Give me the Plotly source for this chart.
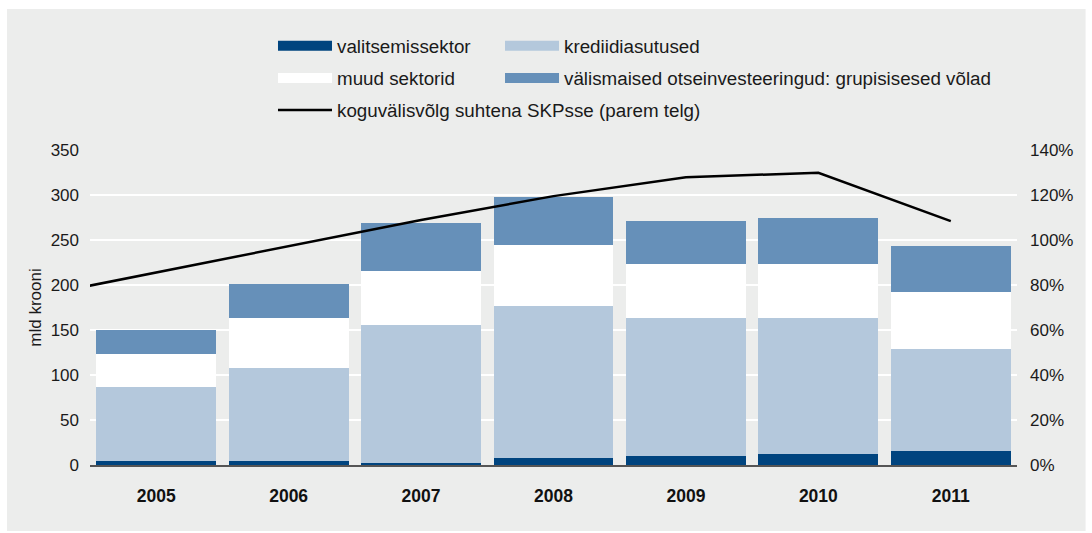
import plotly.graph_objects as go

years = [2005, 2006, 2007, 2008, 2009, 2010, 2011]
valitsemissektor = [4.4, 4.4, 2.2, 7.8, 10.0, 12.2, 15.6]
krediidiasutused = [82.3, 103.4, 153.4, 168.9, 153.3, 151.1, 113.3]
muud_sektorid = [36.6, 55.5, 60.0, 67.7, 60.0, 60.0, 63.3]
otseinvesteeringud = [26.7, 37.8, 53.3, 53.4, 47.8, 51.1, 51.1]

# debt-to-GDP line (right axis); the line enters from the left edge of the plot
line_years = [2004, 2005, 2006, 2007, 2008, 2009, 2010, 2011]
koguvolg_pct = [0.739, 0.855, 0.972, 1.089, 1.195, 1.279, 1.299, 1.084]

C_DARK = "#00447f"
C_LIGHT = "#b4c8dc"
C_WHITE = "#ffffff"
C_MID = "#6690b9"
BG = "#ecedec"
FONT = "Liberation Sans, Arial, Helvetica, sans-serif"

fig = go.Figure()

series = [
    ("valitsemissektor", valitsemissektor, C_DARK, "legend"),
    ("krediidiasutused", krediidiasutused, C_LIGHT, "legend2"),
    ("muud sektorid", muud_sektorid, C_WHITE, "legend3"),
    ("välismaised otseinvesteeringud: grupisisesed võlad", otseinvesteeringud, C_MID, "legend4"),
]

for name, vals, col, lg in series:
    fig.add_trace(go.Bar(x=years, y=vals, name=name, marker=dict(color=col, line=dict(width=0)),
                         showlegend=False, legendgroup=name))

# legend swatches (wide rectangles like the original)
for name, vals, col, lg in series:
    fig.add_trace(go.Scatter(x=[None], y=[None], mode="lines", name=name, legendgroup=name,
                             line=dict(color=col, width=14), legend=lg, hoverinfo="skip"))

fig.add_trace(go.Scatter(x=line_years, y=koguvolg_pct, mode="lines", yaxis="y2",
                         name="koguvälisvõlg suhtena SKPsse (parem telg)",
                         line=dict(color="#000000", width=2.5), legend="legend5"))

leg_common = dict(orientation="h", xanchor="left", yanchor="middle", bgcolor="rgba(0,0,0,0)",
                  font=dict(family=FONT, size=18.8, color="#1a1a1a"), itemwidth=54,
                  tracegroupgap=0, itemclick=False)

X1 = 0.1974
X2 = 0.4423
R1, R2, R3 = 1.330, 1.228, 1.126

fig.update_layout(
    width=1092, height=533,
    margin=dict(l=90, r=75, t=150, b=68),
    paper_bgcolor="#ffffff",
    plot_bgcolor="rgba(0,0,0,0)",
    barmode="stack",
    bargap=0.094,
    font=dict(family=FONT, size=17, color="#1a1a1a"),
    xaxis=dict(range=[2004.5, 2011.5], tickmode="array", tickvals=years,
               ticktext=[str(y) for y in years], showgrid=False, zeroline=False,
               showline=True, linecolor="#555555", linewidth=1.5, ticks="",
               tickfont=dict(family=FONT, size=17.5, color="#111111", weight="bold"),
               ticklabelstandoff=14),
    yaxis=dict(range=[0, 350], dtick=50, showgrid=True, gridcolor="#ffffff", gridwidth=1.5,
               zeroline=False, ticks="", ticklabelstandoff=10,
               title=dict(text="mld krooni", standoff=4, font=dict(family=FONT, size=17))),
    yaxis2=dict(range=[0, 1.4], dtick=0.2, tickformat=".0%", overlaying="y", side="right",
                showgrid=False, zeroline=False, ticks="", ticklabelstandoff=12),
    legend=dict(x=X1, y=R1, **leg_common),
    legend2=dict(x=X2, y=R1, **leg_common),
    legend3=dict(x=X1, y=R2, **leg_common),
    legend4=dict(x=X2, y=R2, **leg_common),
    legend5=dict(x=X1, y=R3, **leg_common),
    shapes=[dict(type="rect", xref="paper", yref="paper", x0=-0.0895, x1=1.074,
                 y0=-0.2095, y1=1.4476, fillcolor=BG, line=dict(width=0), layer="below")],
)

fig.write_html("out.html", config={"displayModeBar": False},
               post_script="document.body.style.margin='0';")
